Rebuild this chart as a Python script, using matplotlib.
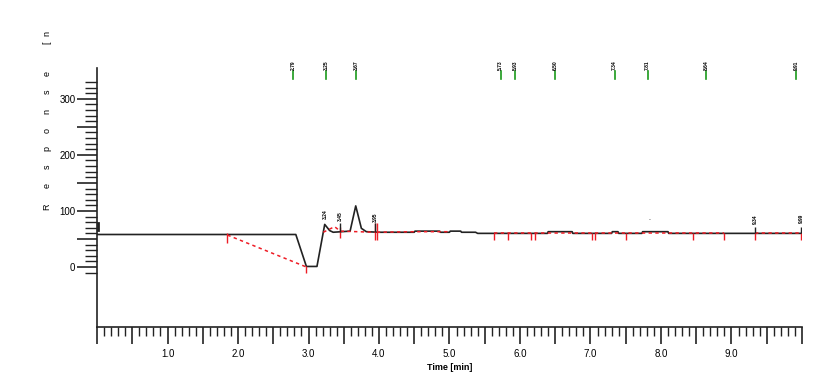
import matplotlib.pyplot as plt
from matplotlib.ticker import FixedLocator, FixedFormatter
import numpy as np

plt.rcParams['font.family'] = ['Liberation Sans', 'DejaVu Sans']

# signal trace (time in min, response)
trace_t = [0.0, 2.82, 2.97, 3.12, 3.23, 3.30, 3.35, 3.59, 3.67, 3.75, 3.82, 4.0,
           4.50, 4.51, 4.86, 4.87, 5.00, 5.01, 5.16, 5.17, 5.37, 5.40,
           6.39, 6.40, 6.74, 6.75, 7.30, 7.31, 7.39, 7.40, 7.73, 7.74, 8.10, 8.11, 10.0]
trace_v = [58, 58, 1, 1, 76, 65, 62, 64, 109, 69, 63, 62,
           62, 64, 64, 62, 62, 64, 64, 62, 62, 60,
           60, 63, 63, 60, 60, 63, 63, 60, 60, 63, 63, 60, 60]

# red dashed baseline segments
base_segs = [
    ([1.85, 2.97], [57, 0]),
    ([3.21, 3.37, 3.45, 3.94], [62, 72, 64, 62]),
    ([3.97, 4.50, 5.00], [62, 63, 63]),
    ([5.63, 8.90], [60, 60]),
    ([9.34, 9.99], [60, 60]),
]

# red baseline ticks
red_t = [1.85, 2.97, 3.45, 3.94, 3.97, 5.63, 5.83, 6.16, 6.22, 7.02, 7.06, 7.51, 8.45, 8.90, 9.34, 9.99]
red_top = [60, 2, 72, 79, 79, 60, 60, 60, 60, 60, 60, 60, 60, 60, 60, 60]
red_bot = [43, -11, 51, 48, 48, 48, 48, 48, 48, 48, 48, 48, 48, 48, 48, 48]

# black peak labels
peak_t = [3.24, 3.45, 3.95, 9.34, 9.99]
peak_lab = [94, 91, 88, 86, 86]
peak_tick_top = [None, 79, 79, 71, 71]
peak_tick_bot = [None, 62, 62, 60, 60]
peak_txt = ['3.24', '3.45', '3.95', '9.34', '9.99']

# green markers on top
top_t = [2.785, 3.248, 3.673, 5.727, 5.935, 6.496, 7.341, 7.813, 8.640, 9.915]

fig = plt.figure(figsize=(8.3, 3.82), dpi=100, facecolor='white')
ax = fig.add_axes([0.1169, 0.144, 0.8493, 0.678])

ax.plot(trace_t, trace_v, color='#222222', lw=1.2, zorder=2)
ax.plot([0.02, 0.02], [66, 78], color='#222222', lw=2, zorder=2)
for st, sv in base_segs:
    ax.plot(st, sv, color='#ee1c25', lw=1.1, dashes=(2.2, 2.2), zorder=3)
ax.vlines(red_t, red_bot, red_top, color='#ee1c25', lw=1.0, zorder=3)

for t, ly, tt, tb, s in zip(peak_t, peak_lab, peak_tick_top, peak_tick_bot, peak_txt):
    if tt is not None:
        ax.vlines(t, tb, tt, color='#222222', lw=1.0, zorder=3)
    ax.text(t, ly, s, rotation=90, fontsize=3.6, fontweight='bold',
            ha='center', va='center', color='black')
ax.text(7.83, 80, '.', fontsize=5, ha='center', va='bottom', color='black')

for t in top_t:
    ax.plot([t, t], [335, 349], color='#1a9a1a', lw=1.2, clip_on=False)
    ax.text(t, 360, '%.2f' % t, rotation=90, fontsize=3.6, fontweight='bold',
            ha='center', va='center', color='black', clip_on=False)

ax.set_xlim(0, 10.0)
ax.set_ylim(-107, 355)
for sp in ['top', 'right']:
    ax.spines[sp].set_visible(False)
for sp in ['left', 'bottom']:
    ax.spines[sp].set_color('#222222')
    ax.spines[sp].set_linewidth(1.2)

xmaj = np.arange(0, 10.01, 0.5)
ax.xaxis.set_major_locator(FixedLocator(xmaj))
ax.xaxis.set_major_formatter(FixedFormatter(
    ['%.1f' % v if (v == int(v) and 0 < v < 10) else '' for v in xmaj]))
ax.xaxis.set_minor_locator(FixedLocator(np.arange(0, 10.01, 0.1)))
ax.tick_params(axis='x', which='major', length=12, width=1.2, pad=4, labelsize=7, color='#222222')
ax.tick_params(axis='x', which='minor', length=6.5, width=1.0, color='#222222')

ymaj = np.arange(0, 301, 50)
ax.yaxis.set_major_locator(FixedLocator(ymaj))
ax.yaxis.set_major_formatter(FixedFormatter(['%d' % v if v % 100 == 0 else '' for v in ymaj]))
ax.yaxis.set_minor_locator(FixedLocator(np.arange(-10, 331, 10)))
ax.tick_params(axis='y', which='major', length=14.5, width=1.2, pad=1, labelsize=7, color='#222222')
ax.tick_params(axis='y', which='minor', length=8.5, width=1.0, color='#222222')

fig.text(450 / 830, 1 - 367 / 382, 'Time [min]', fontsize=6.5, fontweight='bold',
         ha='center', va='center')

ylab = ['R', 'e', 's', 'p', 'o', 'n', 's', 'e', '[', 'n']
ylab_y = [207, 186, 167, 148, 130, 111, 92, 74, 43, 33]
for ch, yy in zip(ylab, ylab_y):
    fig.text(47 / 830, 1 - yy / 382, ch, rotation=90, fontsize=6.5,
             ha='center', va='center')

fig.savefig('out.png', dpi=100, facecolor='white')
